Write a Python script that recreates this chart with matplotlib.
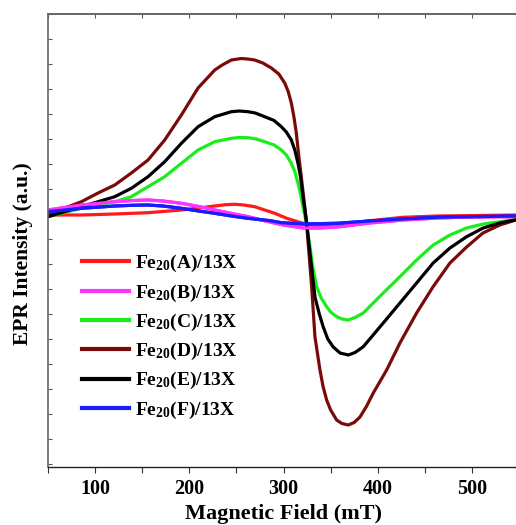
import matplotlib
matplotlib.use("Agg")
import matplotlib.pyplot as plt
from matplotlib.ticker import MultipleLocator

plt.rcParams["font.family"] = ["Liberation Serif", "DejaVu Serif"]
plt.rcParams["font.weight"] = "bold"
plt.rcParams["mathtext.fontset"] = "custom"
plt.rcParams["mathtext.rm"] = "Liberation Serif:bold"
plt.rcParams["mathtext.it"] = "Liberation Serif:bold"
plt.rcParams["mathtext.bf"] = "Liberation Serif:bold"

# field (mT) and intensity (a.u.)
field_a = [50, 85.5, 120.9, 156.2, 191.6, 210, 227, 238, 248, 258, 269.4, 280, 290.7, 303.4, 320.7, 338.7, 356.8,
           391.8, 426.8, 462.9, 550]
int_a = [-0.02, -0.02, 0.0, 0.026, 0.08, 0.12, 0.16, 0.185, 0.194, 0.18, 0.146, 0.08, 0.014, -0.086, -0.186, -0.254,
         -0.22, -0.134, -0.066, -0.04, -0.02]

field_b = [50, 85.5, 120.9, 140, 156.2, 172, 191.6, 210, 227, 245, 262.3, 285.7, 300, 320.7, 338, 356.8, 391.8,
           426.8, 462.9, 497.9, 550]
int_b = [0.08, 0.18, 0.246, 0.27, 0.28, 0.26, 0.214, 0.15, 0.08, 0.01, -0.054, -0.16, -0.22, -0.28, -0.28, -0.26,
         -0.18, -0.12, -0.08, -0.06, -0.054]

field_c = [50, 85.5, 120.9, 138.5, 156.2, 173.9, 191.6, 209.3, 227, 244.6, 253, 262.3, 271, 280, 290, 297.7, 303,
           308.3, 312, 315.4, 318, 320.7, 324.2, 328.1, 331, 335.2, 340, 345.8, 350, 356.4, 362, 368.8, 376, 384.7,
           405.9, 423.6, 441.3, 458.9, 476.7, 494.4, 512, 529.7, 550]
int_c = [-0.054, 0.114, 0.246, 0.346, 0.546, 0.746, 1.014, 1.28, 1.446, 1.514, 1.53, 1.526, 1.5, 1.446, 1.38, 1.28,
         1.18, 1.014, 0.85, 0.614, 0.4, 0.146, -0.18, -0.654, -1.05, -1.454, -1.68, -1.854, -1.96, -2.054, -2.1,
         -2.12, -2.07, -1.98, -1.58, -1.254, -0.92, -0.62, -0.42, -0.28, -0.2, -0.154, -0.1]

field_d = [50, 67.9, 85.5, 103.2, 120.9, 138.5, 156.2, 173.9, 191.6, 209.3, 227, 235, 244.6, 255.2, 262, 269.4,
           278, 287.1, 295, 301.3, 305, 308.3, 311, 313.6, 316, 318.9, 324.4, 329.9, 333.4, 338.7, 342, 345.8, 350,
           356.4, 362, 368.8, 375, 381.2, 388, 395.3, 409.5, 423.6, 441.3, 458.6, 476.7, 494.4, 511.7, 529.7, 550]
int_d = [-0.02, 0.12, 0.246, 0.42, 0.58, 0.82, 1.08, 1.48, 1.98, 2.52, 2.88, 2.98, 3.08, 3.11, 3.10, 3.08,
         3.02, 2.92, 2.80, 2.62, 2.45, 2.22, 1.95, 1.62, 1.2, 0.74, -0.16, -1.46, -2.46, -3.12, -3.45, -3.72, -3.92,
         -4.12, -4.19, -4.22, -4.17, -4.06, -3.85, -3.58, -3.12, -2.58, -1.98, -1.46, -0.98, -0.66, -0.38, -0.22, -0.1]

field_e = [50, 85.5, 120.9, 138.5, 156.2, 173.9, 191.6, 209.3, 227, 244.6, 253, 262.3, 270, 280, 290, 297.7, 303,
           308.3, 312, 315.4, 318, 320.7, 324.2, 328.1, 333.4, 338, 342.2, 347, 352.8, 360, 368.8, 376, 384.7, 405.9,
           423.6, 441.3, 458.9, 476.7, 494.4, 512, 529.7, 550]
int_e = [-0.054, 0.146, 0.346, 0.514, 0.746, 1.046, 1.414, 1.746, 1.946, 2.046, 2.06, 2.046, 2.02, 1.946, 1.87,
         1.746, 1.64, 1.48, 1.28, 1.014, 0.75, 0.346, -0.12, -0.78, -1.66, -2.0, -2.26, -2.5, -2.66, -2.78, -2.82,
         -2.77, -2.654, -2.18, -1.78, -1.38, -0.98, -0.68, -0.454, -0.28, -0.18, -0.1]

field_f = [50, 85.5, 120.9, 140, 156.2, 172, 191.6, 210, 227, 245, 262.3, 285.7, 297.7, 320.7, 356.8, 391.8, 426.8,
           462.9, 497.9, 550]
int_f = [0.046, 0.114, 0.16, 0.175, 0.18, 0.16, 0.114, 0.06, 0.014, -0.04, -0.086, -0.134, -0.174, -0.2, -0.186,
         -0.14, -0.10, -0.066, -0.054, -0.04]

labels = ["Fe$_{20}$(A)/13X", "Fe$_{20}$(B)/13X", "Fe$_{20}$(C)/13X",
          "Fe$_{20}$(D)/13X", "Fe$_{20}$(E)/13X", "Fe$_{20}$(F)/13X"]
colors = ["#ff1a1a", "#ff33ff", "#1aee1a", "#7a0a0a", "#000000", "#1a1aff"]
series = [(field_a, int_a), (field_b, int_b), (field_c, int_c),
          (field_d, int_d), (field_e, int_e), (field_f, int_f)]

fig = plt.figure(figsize=(5.16, 5.25), dpi=100)
ax = fig.add_axes([48 / 516, 58 / 525, 471 / 516, 453 / 525])

for (x, y), lab, c in zip(series, labels, colors):
    ax.plot(x, y, color=c, lw=2.3, label=lab, solid_joinstyle="round")
# flat curves on top, as in the original overlap order
for (x, y), c in [(series[1], colors[1]), (series[5], colors[5])]:
    ax.plot(x, y, color=c, lw=2.3, solid_joinstyle="round")

ax.set_xlim(50, 550)
ax.set_ylim(-5.06, 4.0)
ax.xaxis.set_major_locator(MultipleLocator(100))
ax.xaxis.set_minor_locator(MultipleLocator(50))
ax.yaxis.set_major_locator(MultipleLocator(0.5))
ax.set_yticklabels([])
ax.tick_params(axis="x", which="both", direction="out", length=4, width=0.8, colors="#333333",
               labelcolor="black", labelsize=14.5, pad=5)
ax.tick_params(axis="y", which="both", direction="in", length=3, width=0.8, colors="#555555")
for lab in ax.get_xticklabels():
    lab.set_fontweight("bold")

# ticks on the top spine point inward
top = ax.secondary_xaxis("top")
top.xaxis.set_major_locator(MultipleLocator(50))
top.tick_params(direction="in", length=3, width=0.8, colors="#555555", labeltop=False)
top.spines["top"].set_color("#666666")
top.spines["top"].set_linewidth(1.2)

for s in ["left", "top"]:
    ax.spines[s].set_color("#666666")
    ax.spines[s].set_linewidth(1.2)
ax.spines["bottom"].set_color("#222222")
ax.spines["bottom"].set_linewidth(1.0)
ax.spines["right"].set_visible(False)

ax.set_xlabel("Magnetic Field (mT)", fontsize=16, fontweight="bold", labelpad=3)
ax.set_ylabel("EPR Intensity (a.u.)", fontsize=15.5, fontweight="bold")
ax.yaxis.set_label_coords(-0.032, 0.472)

leg = ax.legend(loc="upper left", bbox_to_anchor=(0.072, 0.472), frameon=False,
                borderpad=0, borderaxespad=0, handlelength=2.4, handletextpad=0.35,
                labelspacing=0.42, prop={"size": 14, "weight": "bold"})
for h in leg.get_lines():
    h.set_linewidth(3)

fig.savefig("out.png", dpi=100)
